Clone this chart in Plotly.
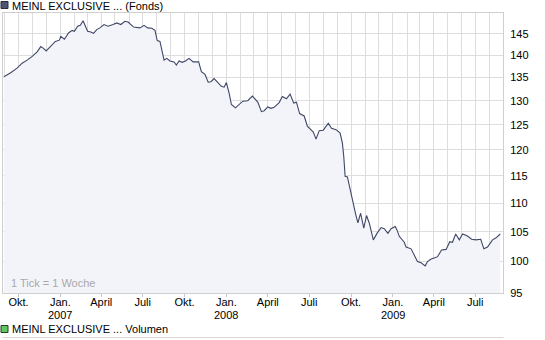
import math
import plotly.graph_objects as go

dates = [
    "2006-08-30", "2006-09-13", "2006-09-28", "2006-10-09", "2006-10-20", "2006-11-01",
    "2006-11-11", "2006-11-19", "2006-11-25", "2006-12-01", "2006-12-10", "2006-12-21",
    "2006-12-30", "2007-01-02", "2007-01-10", "2007-01-19", "2007-01-27", "2007-02-01",
    "2007-02-08", "2007-02-14", "2007-02-20", "2007-03-02", "2007-03-09", "2007-03-15",
    "2007-03-22", "2007-03-29", "2007-04-07", "2007-04-16", "2007-04-27", "2007-05-05",
    "2007-05-14", "2007-05-23", "2007-05-30", "2007-06-11", "2007-06-25", "2007-07-04",
    "2007-07-12", "2007-07-21", "2007-07-28", "2007-08-02", "2007-08-08", "2007-08-12",
    "2007-08-17", "2007-08-23", "2007-08-30", "2007-09-08", "2007-09-13", "2007-09-19",
    "2007-09-26", "2007-10-03", "2007-10-11", "2007-10-20", "2007-10-27", "2007-11-01",
    "2007-11-07", "2007-11-15", "2007-11-22", "2007-11-28", "2007-12-05", "2007-12-12",
    "2007-12-21", "2007-12-27", "2008-01-01", "2008-01-07", "2008-01-12", "2008-01-21",
    "2008-01-29", "2008-02-06", "2008-02-17", "2008-02-27", "2008-03-10", "2008-03-18",
    "2008-03-24", "2008-04-01", "2008-04-08", "2008-04-15", "2008-04-26", "2008-05-03",
    "2008-05-12", "2008-05-20", "2008-05-28", "2008-06-03", "2008-06-10", "2008-06-20",
    "2008-06-27", "2008-07-05", "2008-07-10", "2008-07-16", "2008-07-23", "2008-08-01",
    "2008-08-12", "2008-08-19", "2008-08-29", "2008-09-07", "2008-09-12", "2008-09-15",
    "2008-09-18", "2008-09-23", "2008-09-29", "2008-10-05", "2008-10-11", "2008-10-16",
    "2008-10-22", "2008-10-29", "2008-11-04", "2008-11-10", "2008-11-19", "2008-11-27",
    "2008-12-06", "2008-12-13", "2008-12-21", "2008-12-28", "2009-01-06", "2009-01-10",
    "2009-01-15", "2009-01-26", "2009-01-30", "2009-02-10", "2009-02-17", "2009-02-24",
    "2009-03-04", "2009-03-13", "2009-03-18", "2009-03-26", "2009-04-02", "2009-04-09",
    "2009-04-18", "2009-04-28", "2009-05-06", "2009-05-12", "2009-05-19", "2009-05-27",
    "2009-06-03", "2009-06-13", "2009-06-23", "2009-07-02", "2009-07-13", "2009-07-20",
    "2009-07-28", "2009-08-08", "2009-08-15", "2009-08-25",
]

values = [
    135.2, 136.0, 137.1, 138.2, 138.9, 139.8,
    140.8, 142.0, 141.6, 141.0, 142.0, 143.2,
    143.5, 144.4, 143.7, 145.2, 145.8, 145.6,
    146.8, 147.0, 148.1, 145.6, 145.4, 145.1,
    146.0, 146.4, 147.2, 146.8, 147.2, 147.6,
    147.2, 148.0, 147.8, 146.6, 146.4, 147.0,
    146.4, 146.3, 145.8, 143.4, 143.2, 141.2,
    138.9, 139.3, 138.7, 138.5, 137.8, 138.7,
    138.4, 138.7, 139.3, 138.5, 138.4, 138.5,
    136.3, 135.7, 134.0, 134.1, 134.8, 134.0,
    133.1, 132.9, 133.9, 131.6, 129.2, 128.5,
    129.2, 129.9, 130.0, 131.0, 129.7, 127.7,
    127.9, 128.7, 128.4, 128.6, 129.6, 130.9,
    130.4, 131.4, 129.5, 129.7, 127.3, 126.8,
    124.7, 123.9, 123.5, 122.1, 123.8, 123.9,
    125.3, 124.3, 124.0, 123.3, 121.3, 118.7,
    114.9, 114.8, 112.4, 110.0, 108.1, 106.5,
    108.2, 105.6, 107.8, 106.5, 103.6, 104.7,
    105.7, 105.5, 104.7, 105.5, 105.9, 105.3,
    104.2, 103.2, 102.4, 102.1, 101.1, 100.0,
    99.8, 99.3, 100.0, 100.4, 100.6, 100.8,
    101.9, 102.0, 103.3, 103.2, 104.6, 103.6,
    104.6, 104.3, 103.7, 103.6, 103.7, 102.1,
    102.4, 103.6, 103.9, 104.6,
]

x_tick_dates = [
    "2006-10-01", "2007-01-01", "2007-04-01", "2007-07-01",
    "2007-10-01", "2008-01-01", "2008-04-01", "2008-07-01",
    "2008-10-01", "2009-01-01", "2009-04-01", "2009-07-01",
]
x_tick_labels = [
    "Okt.", "Jan.", "April", "Juli",
    "Okt.", "Jan.", "April", "Juli",
    "Okt.", "Jan.", "April", "Juli",
]
year_dates = ["2007-01-01", "2008-01-01", "2009-01-01"]
year_labels = ["2007", "2008", "2009"]
y_tick_values = [95, 100, 105, 110, 115, 120, 125, 130, 135, 140, 145]
y_tick_labels = [str(v) for v in y_tick_values]
y_range = [95, 150]
x_range = ["2006-08-28", "2009-08-31"]

series_name = "MEINL EXCLUSIVE ... (Fonds)"
volume_name = "MEINL EXCLUSIVE ... Volumen"
tick_note = "1 Tick = 1 Woche"

FONT = "Liberation Sans, Arial, sans-serif"
GRID = "#dedede"

fig = go.Figure()
fig.add_trace(go.Scatter(
    x=dates, y=values, mode="lines",
    line=dict(color="#3e4766", width=1.1),
    fill="tozeroy", fillcolor="#f3f4fa",
    hoverinfo="skip", showlegend=False,
))

fig.update_layout(
    width=545, height=340,
    margin=dict(l=3, r=42, t=13, b=47, autoexpand=False),
    paper_bgcolor="white", plot_bgcolor="white",
    font=dict(family=FONT, size=11, color="#000000"),
    showlegend=False,
    xaxis=dict(
        type="date", range=x_range,
        tickvals=x_tick_dates, ticktext=x_tick_labels,
        showgrid=True, gridcolor=GRID, gridwidth=1,
        ticks="outside", ticklen=3, tickcolor="#c8c8c8",
        ticklabelstandoff=-4,
        showline=True, linecolor="#cfcfcf", linewidth=1, mirror=True,
        minor=dict(dtick="M1", tick0="2006-09-01", showgrid=True,
                   gridcolor=GRID, gridwidth=1, ticks=""),
        tickfont=dict(family=FONT, size=11, color="#000000"),
        zeroline=False, fixedrange=True,
    ),
    yaxis=dict(
        type="log", side="right",
        range=[math.log10(y_range[0]), math.log10(y_range[1])],
        tickvals=y_tick_values, ticktext=y_tick_labels,
        showgrid=True, gridcolor=GRID, gridwidth=1,
        ticks="", ticklabelstandoff=4,
        showline=True, linecolor="#cfcfcf", linewidth=1, mirror=True,
        tickfont=dict(family=FONT, size=11, color="#000000"),
        zeroline=False, fixedrange=True,
    ),
)

ph = 280.0
pw = 500.0
def py(pix):
    return (293.0 - pix) / ph
def px(pix):
    return (pix - 3.0) / pw

for d, lab in zip(year_dates, year_labels):
    fig.add_annotation(text=lab, xref="x", yref="paper", x=d, y=py(314.5),
                       xanchor="center", yanchor="middle", showarrow=False,
                       font=dict(family=FONT, size=11, color="#000000"))

fig.add_shape(type="rect", xref="paper", yref="paper",
              x0=px(1), x1=px(8), y0=py(8.5), y1=py(1.5),
              fillcolor="#4d5572", line=dict(color="#2b2f3d", width=1))
fig.add_annotation(text=series_name, xref="paper", yref="paper",
                   x=px(10), y=py(5.5), xanchor="left", yanchor="middle",
                   showarrow=False, font=dict(family=FONT, size=11, color="#000000"))

fig.add_shape(type="rect", xref="paper", yref="paper",
              x0=px(1), x1=px(8), y0=py(332.5), y1=py(325.5),
              fillcolor="#5fc85f", line=dict(color="#2b3d2b", width=1))
fig.add_annotation(text=volume_name, xref="paper", yref="paper",
                   x=px(10), y=py(329), xanchor="left", yanchor="middle",
                   showarrow=False, font=dict(family=FONT, size=11, color="#000000"))
fig.add_shape(type="line", xref="paper", yref="paper",
              x0=px(2.5), x1=px(503.5), y0=py(337.5), y1=py(337.5),
              line=dict(color="#d8d8d8", width=1))

fig.add_annotation(text=tick_note, xref="paper", yref="paper",
                   x=px(9), y=py(283), xanchor="left", yanchor="middle",
                   showarrow=False, font=dict(family=FONT, size=11, color="#a8a8a8"))

fig.write_html("out.html")
